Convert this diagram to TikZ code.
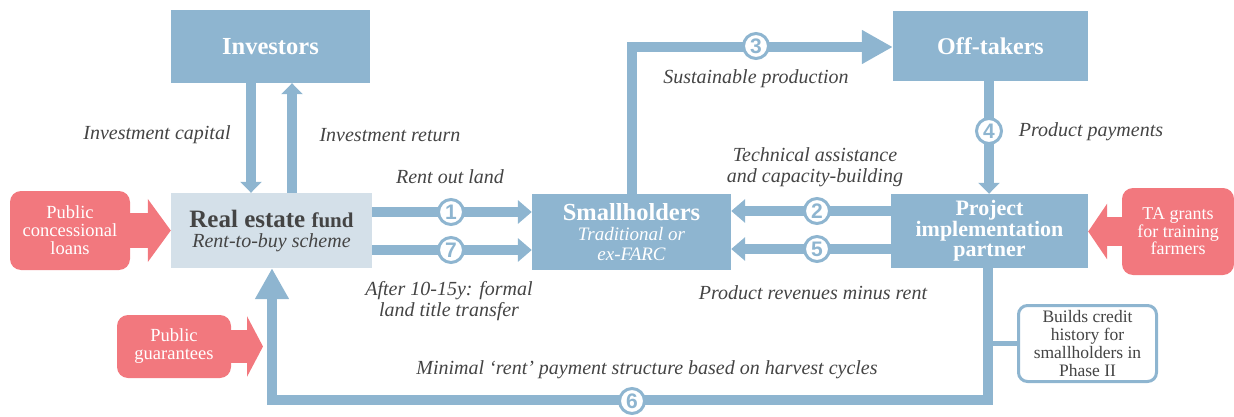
\documentclass[tikz,border=0pt]{standalone}
\usepackage{fontspec}
\setmainfont{Liberation Serif}
\newfontfamily\numfont{Liberation Sans}
\usetikzlibrary{arrows.meta}
\definecolor{bl}{HTML}{8EB5D0}
\definecolor{lbl}{HTML}{D4E0E9}
\definecolor{rd}{HTML}{F2787E}
\definecolor{txt}{HTML}{444444}
\newcommand{\subit}{\mdseries\itshape\fontsize{19}{19}\selectfont}
\begin{document}
\begin{tikzpicture}[x=1pt,y=-1pt,
  box/.style={fill=bl, text=white, align=center, inner sep=0pt,
    font=\bfseries\fontsize{24.5}{20}\selectfont},
  redbox/.style={fill=rd, text=white, align=center, inner sep=0pt, rounded corners=11pt,
    font=\fontsize{18.5}{18}\selectfont},
  lab/.style={text=txt, align=center, inner sep=0pt, font=\itshape\fontsize{20}{21}\selectfont},
  flow/.style={draw=bl, line width=10pt},
  smallhead/.style={-{Triangle[length=11pt,width=21pt]}},
  midhead/.style={-{Triangle[length=14pt,width=23pt]}},
  bighead/.style={-{Triangle[length=31pt,width=32pt]}},
  numc/.style={circle, draw=bl, fill=white, line width=3pt, minimum size=25pt, inner sep=0pt,
    text=bl, font=\numfont\bfseries\fontsize{21}{21}\selectfont},
  redflow/.style={draw=rd}
]
\useasboundingbox (0,0) rectangle (1234,417);

% main boxes
\node[box, minimum width=199pt, minimum height=73pt] (inv) at (270.5,46.5) {Investors};
\node[fill=lbl, text=txt, align=center, inner sep=0pt, minimum width=201pt, minimum height=75pt,
  font=\bfseries\fontsize{25}{20}\selectfont] (ref) at (271.5,230.5)
  {Real estate {\fontsize{21}{20}\selectfont fund}\\
   \mdseries\itshape\fontsize{20}{20}\selectfont Rent-to-buy scheme};
\node[box, minimum width=199pt, minimum height=76pt] (sh) at (631.5,232)
  {Smallholders\\ \subit Traditional or\\ \subit ex-FARC};
\node[box, minimum width=195pt, minimum height=70pt, font=\bfseries\fontsize{24}{20}\selectfont] (off) at (990.5,46) {Off-takers};
\node[box, minimum width=197pt, minimum height=74pt, font=\bfseries\fontsize{22}{19.8}\selectfont] (pip) at (989.5,231) {Project\\implementation\\partner};

% red boxes
\node[redbox, minimum width=120pt, minimum height=79pt] (pcl) at (70,230.5) {Public\\concessional\\loans};
\node[redbox, minimum width=114pt, minimum height=63pt] (pg) at (174,346.5) {Public\\guarantees};
\node[redbox, minimum width=112pt, minimum height=87pt, font=\fontsize{18}{17.5}\selectfont] (ta) at (1178,231.5) {TA grants\\for training\\farmers};

% credit note
\node[draw=bl, line width=3pt, fill=white, rounded corners=9pt, text=txt, align=center, inner sep=0pt,
  minimum width=138pt, minimum height=76pt, font=\fontsize{17.5}{18}\selectfont] (credit) at (1087.5,343.5)
  {Builds credit\\history for\\smallholders in\\Phase II};

% helper coordinates
\coordinate (xcap) at (251,0);
\coordinate (xret) at (292,0);
\coordinate (yr1) at (0,212);
\coordinate (yr7) at (0,250);
\coordinate (yr2) at (0,211);
\coordinate (yr5) at (0,249);
\coordinate (x3) at (632,0);
\coordinate (c3) at (632,47);
\coordinate (x4) at (989,0);
\coordinate (c6r) at (988,400);
\coordinate (c6l) at (272,400);
\coordinate (pgtip) at (263,346.5);

% investor flows
\draw[flow, smallhead] (inv.south -| xcap) -- (ref.north -| xcap);
\draw[flow, smallhead] (ref.north -| xret) -- (inv.south -| xret);

% 1 and 7
\draw[flow, midhead] (ref.east |- yr1) -- (sh.west |- yr1);
\draw[flow, midhead] (ref.east |- yr7) -- (sh.west |- yr7);
% 2 and 5
\draw[flow, midhead] (pip.west |- yr2) -- (sh.east |- yr2);
\draw[flow, midhead] (pip.west |- yr5) -- (sh.east |- yr5);
% 3
\draw[flow, bighead] (sh.north -| x3) -- (c3) -- (off.west |- c3);
% 4
\draw[flow, smallhead] (off.south -| x4) -- (pip.north -| x4);
% 6
\draw[flow, bighead] (pip.south -| c6r) -- (c6r) -- (c6l) -- (ref.south -| c6l);
% credit connector
\draw[draw=bl, line width=5pt] (credit.west) -- (credit.west -| c6r);

% red arrows
\draw[redflow, line width=35pt, -{Triangle[length=23pt,width=62pt]}] (pcl.east) -- (pcl.east -| ref.west);
\draw[redflow, line width=33pt, -{Triangle[length=16pt,width=60pt]}] (pg.east) -- (pgtip);
\draw[redflow, line width=29pt, -{Triangle[length=19pt,width=55pt]}] (ta.west) -- (ta.west -| pip.east);

% number circles
\node[numc] (n1) at (451,212) {1};
\node[numc] (n7) at (451,250) {7};
\node[numc] (n2) at (817,211) {2};
\node[numc] (n5) at (817,249) {5};
\node[numc] (n3) at (756,46) {3};
\node[numc] (n4) at (989,131) {4};
\node[numc] (n6) at (632,401) {6};

% labels
\node[lab] (l1) at (157,135) {Investment capital};
\node[lab] (l2) at (390,135) {Investment return};
\node[lab] (l3) at (450,177) {Rent out land};
\node[lab] (l4) at (449,301) {After 10-15y: formal\\land title transfer};
\node[lab] (l5) at (756,79) {Sustainable production};
\node[lab] (l6) at (815,167.5) {Technical assistance\\and capacity-building};
\node[lab] (l7) at (1091,132) {Product payments};
\node[lab] (l8) at (813,293) {Product revenues minus rent};
\node[lab] (l9) at (647,370) {Minimal ‘rent’ payment structure based on harvest cycles};
\end{tikzpicture}
\end{document}
